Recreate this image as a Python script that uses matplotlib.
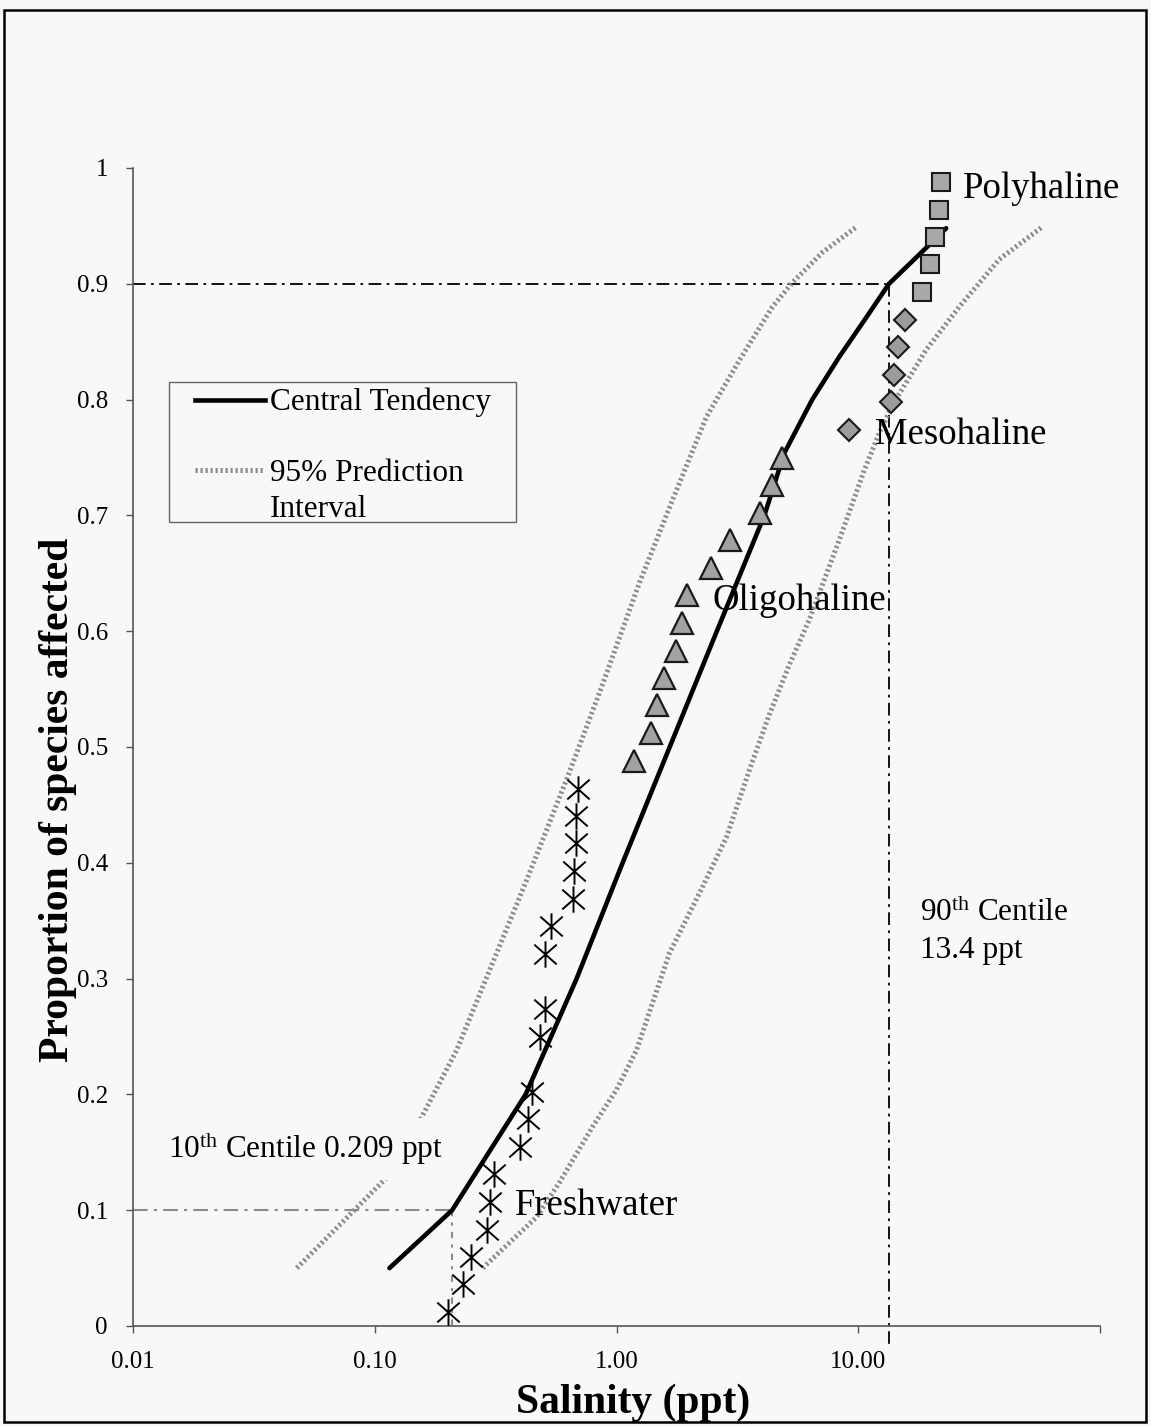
import matplotlib
matplotlib.use('Agg')
import matplotlib.pyplot as plt
from matplotlib.lines import Line2D
from matplotlib.patches import Rectangle
from matplotlib.path import Path

plt.rcParams['font.family'] = ['Liberation Serif', 'DejaVu Serif']
plt.rcParams['mathtext.fontset'] = 'custom'
plt.rcParams['mathtext.rm'] = 'Liberation Serif'
plt.rcParams['mathtext.it'] = 'Liberation Serif:italic'
plt.rcParams['mathtext.bf'] = 'Liberation Serif:bold'

# ---------------- data ----------------
fresh_x = [0.200, 0.231, 0.249, 0.290, 0.299, 0.310, 0.397, 0.429, 0.446,
           0.481, 0.504, 0.504, 0.534, 0.658, 0.670, 0.683, 0.683, 0.690]
fresh_y = [0.012, 0.036, 0.060, 0.083, 0.107, 0.131, 0.155, 0.179, 0.202,
           0.250, 0.274, 0.321, 0.345, 0.369, 0.393, 0.417, 0.440, 0.464]
oligo_x = [1.187, 1.395, 1.477, 1.579, 1.770, 1.874, 1.966, 2.470, 2.959, 3.936, 4.413, 4.853]
oligo_y = [0.488, 0.512, 0.536, 0.560, 0.583, 0.607, 0.631, 0.655, 0.679, 0.702, 0.726, 0.750]
meso_x = [9.18, 13.69, 14.09, 14.64, 15.64]
meso_y = [0.774, 0.798, 0.821, 0.845, 0.869]
poly_x = [18.4, 19.8, 20.8, 21.6, 22.0]
poly_y = [0.893, 0.917, 0.940, 0.964, 0.988]

ct_x = [0.115, 0.209, 0.421, 0.684, 1.06, 1.66, 2.60, 4.09, 4.95, 6.45, 8.35, 10.8, 13.4, 19.3, 23.1]
ct_y = [0.05, 0.10, 0.20, 0.30, 0.40, 0.50, 0.60, 0.70, 0.754, 0.80, 0.837, 0.871, 0.90, 0.932, 0.948]

pi_hi_x = [0.0476, 0.113, 0.156, 0.218, 0.425, 0.627, 0.851, 1.245, 1.703, 2.355, 3.224, 4.413, 5.337, 7.10, 9.81]
pi_hi_y = [0.050, 0.129, 0.180, 0.238, 0.385, 0.474, 0.547, 0.642, 0.713, 0.785, 0.834, 0.880, 0.901, 0.927, 0.949]

pi_lo_x = [0.2795, 0.361, 0.467, 0.581, 0.796, 1.000, 1.209, 1.656, 2.267, 2.848, 3.544,
           4.287, 5.187, 6.275, 8.35, 10.59, 12.21, 13.82, 19.10, 26.15, 38.24, 57.6]
pi_lo_y = [0.050, 0.072, 0.094, 0.124, 0.172, 0.204, 0.238, 0.322, 0.379, 0.422, 0.480,
           0.528, 0.571, 0.610, 0.679, 0.739, 0.771, 0.795, 0.843, 0.880, 0.921, 0.949]

p10_x, p10_y = 0.209, 0.1
p90_x, p90_y = 13.4, 0.9

x_ticks = [0.01, 0.1, 1, 10, 100]
x_ticklabels = ['0.01', '0.10', '1.00', '10.00', '']
y_ticks = [0, 0.1, 0.2, 0.3, 0.4, 0.5, 0.6, 0.7, 0.8, 0.9, 1]
y_ticklabels = ['0', '0.1', '0.2', '0.3', '0.4', '0.5', '0.6', '0.7', '0.8', '0.9', '1']

# ---------------- figure ----------------
W, H = 1151, 1426
BG = '#f8f8f8'
fig = plt.figure(figsize=(W / 100, H / 100), dpi=100, facecolor=BG)


def fx(px):
    return px / W


def fy(py):
    return 1 - py / H


ax = fig.add_axes([fx(133), fy(1326), (1100 - 133) / W, (1326 - 168) / H])
ax.set_facecolor('none')
ax.set_xscale('log')
ax.set_xlim(0.01, 100)
ax.set_ylim(0, 1)

for s in ['top', 'right']:
    ax.spines[s].set_visible(False)
for s in ['left', 'bottom']:
    ax.spines[s].set_color('#555555')
    ax.spines[s].set_linewidth(1.2)

ax.set_xticks(x_ticks)
ax.set_xticklabels(x_ticklabels)
ax.xaxis.set_minor_locator(matplotlib.ticker.NullLocator())
ax.set_yticks(y_ticks)
ax.set_yticklabels(y_ticklabels)
ax.tick_params(axis='both', direction='out', length=5, width=1, color='#555555',
               labelsize=18, pad=13)

pi_style = dict(color='#8c8c8c', lw=3.6, linestyle=(0, (0.45, 0.55)), solid_capstyle='butt')

# asterisk marker: vertical stroke plus an X
ast_path = Path(
    [(0, -1), (0, 1), (-0.85, -0.75), (0.85, 0.75), (-0.85, 0.75), (0.85, -0.75)],
    [Path.MOVETO, Path.LINETO, Path.MOVETO, Path.LINETO, Path.MOVETO, Path.LINETO])

# reference lines
ax.plot([0.01, p90_x], [p90_y, p90_y], color='black', lw=1.3,
        linestyle=(0, (7, 3, 1.5, 3)), zorder=1.5)
ax.plot([p90_x, p90_x], [p90_y, -0.017], color='black', lw=1.3,
        linestyle=(0, (7, 3, 1.5, 3)), zorder=1.5, clip_on=False)
ax.plot([0.01, p10_x], [p10_y, p10_y], color='#8a8a8a', lw=1.5,
        linestyle=(0, (7, 3, 1.5, 3)), zorder=1.5)
ax.plot([p10_x, p10_x], [p10_y, 0], color='#8a8a8a', lw=1.5,
        linestyle=(0, (3, 3, 1.5, 3)), zorder=1.5)

# prediction interval
ax.plot(pi_hi_x, pi_hi_y, zorder=2, **pi_style)
ax.plot(pi_lo_x, pi_lo_y, zorder=2, **pi_style)

# central tendency
ax.plot(ct_x, ct_y, color='black', lw=3.3, solid_capstyle='round', zorder=3)

# species points
ax.plot(fresh_x, fresh_y, linestyle='none', marker=ast_path, markersize=19,
        markeredgecolor='black', markerfacecolor='none', markeredgewidth=1.4, zorder=4)
ax.plot(oligo_x, oligo_y, linestyle='none', marker='^', markersize=16,
        markerfacecolor='#a2a2a2', markeredgecolor='#1a1a1a', markeredgewidth=1.6, zorder=4)
ax.plot(meso_x, meso_y, linestyle='none', marker='D', markersize=11,
        markerfacecolor='#9c9c9c', markeredgecolor='#1a1a1a', markeredgewidth=1.5, zorder=4)
ax.plot(poly_x, poly_y, linestyle='none', marker='s', markersize=13.5,
        markerfacecolor='#a8a8a8', markeredgecolor='#1a1a1a', markeredgewidth=1.5, zorder=4)

# axis titles
fig.text(fx(633), fy(1403), 'Salinity (ppt)', ha='center', va='center',
         fontsize=30, fontweight='bold')
fig.text(fx(58), fy(800), 'Proportion of species affected', ha='center', va='center',
         rotation=90, fontsize=30, fontweight='bold')

# category labels
cat_fs = 26.5
fig.text(fx(963), fy(198), 'Polyhaline', ha='left', va='baseline', fontsize=cat_fs)
fig.text(fx(875), fy(444), 'Mesohaline', ha='left', va='baseline', fontsize=cat_fs)
fig.text(fx(713), fy(610), 'Oligohaline', ha='left', va='baseline', fontsize=cat_fs)
fig.text(fx(515), fy(1215), 'Freshwater', ha='left', va='baseline', fontsize=cat_fs)

# centile annotations
ann_fs = 22.5
fig.text(fx(168), fy(1158), r'10$^{\mathrm{th}}$ Centile 0.209 ppt', ha='left', va='baseline',
         fontsize=ann_fs, zorder=5,
         bbox=dict(boxstyle='square,pad=0.4', facecolor=BG, edgecolor='none'))
fig.text(fx(920), fy(921), r'90$^{\mathrm{th}}$ Centile', ha='left', va='baseline', fontsize=ann_fs)
fig.text(fx(920), fy(958), '13.4 ppt', ha='left', va='baseline', fontsize=ann_fs)

# legend (drawn manually)
fig.add_artist(Rectangle((fx(169), fy(522)), (516 - 169) / W, (522 - 382) / H,
                         transform=fig.transFigure, facecolor='none',
                         edgecolor='#666666', lw=1.0))
fig.add_artist(Line2D([fx(195), fx(265)], [fy(400), fy(400)], transform=fig.transFigure,
                      color='black', lw=3.3))
fig.add_artist(Line2D([fx(195), fx(265)], [fy(470), fy(470)], transform=fig.transFigure,
                      **pi_style))
fig.text(fx(270), fy(410), 'Central Tendency', ha='left', va='baseline', fontsize=ann_fs)
fig.text(fx(270), fy(481), '95% Prediction', ha='left', va='baseline', fontsize=ann_fs)
fig.text(fx(270), fy(517), 'Interval', ha='left', va='baseline', fontsize=ann_fs)

# outer frame
fig.add_artist(Rectangle((fx(4), fy(1422)), (1146 - 4) / W, (1422 - 10) / H,
                         transform=fig.transFigure, facecolor='none',
                         edgecolor='black', lw=1.8))

fig.savefig('out.png', dpi=100, facecolor=fig.get_facecolor())
